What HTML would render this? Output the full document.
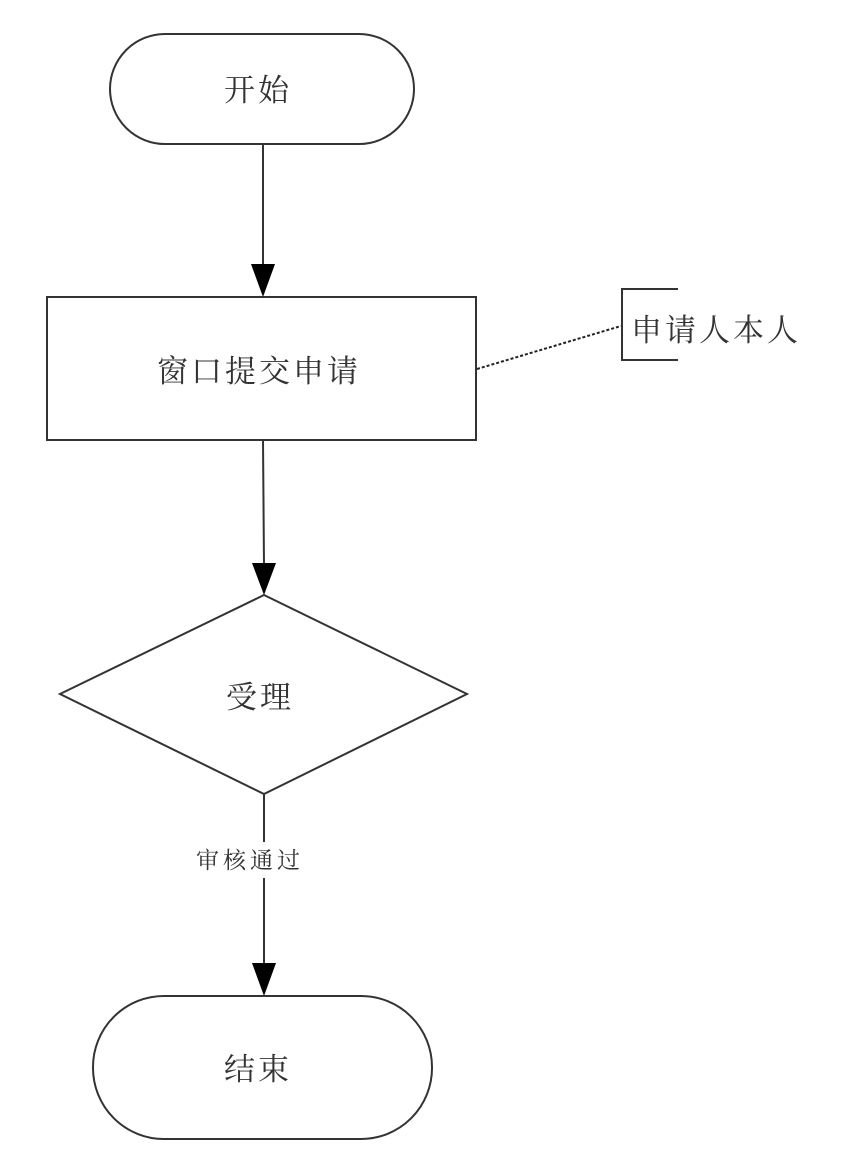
<!DOCTYPE html>
<html><head><meta charset="utf-8"><style>
html,body{margin:0;padding:0;background:#fff;}
svg{display:block;}
text{font-family:"Liberation Serif","Noto Serif CJK SC","Noto Sans CJK SC",serif;fill:#333;}
</style></head><body>
<svg width="848" height="1164" viewBox="0 0 848 1164" xmlns="http://www.w3.org/2000/svg">
<g fill="none" stroke="#333" stroke-width="2">
<rect x="110" y="34" width="304" height="110" rx="55" ry="55"/>
<rect x="47" y="297" width="429" height="143"/>
<polygon points="264,595 467,694 264,794 60,694"/>
<rect x="93" y="996" width="339" height="143" rx="71" ry="71"/>
<line x1="263" y1="144" x2="263" y2="268"/>
<line x1="263" y1="440" x2="264" y2="566"/>
<line x1="264" y1="794" x2="264" y2="842"/>
<line x1="264" y1="878" x2="264" y2="966"/>
<polyline points="678,289 622,289 622,360 678,360"/>
<line x1="477" y1="369" x2="621" y2="326" stroke-dasharray="3,2" stroke="#222"/>
</g>
<g fill="#000">
<polygon points="251,264 275,264 263,297"/>
<polygon points="252,563 276,563 264,595"/>
<polygon points="252,963 276,963 264,996"/>
</g>
<g font-size="31" letter-spacing="3">
<text x="224" y="101">开始</text>
<text x="157" y="382">窗口提交申请</text>
<text x="226" y="708">受理</text>
<text x="224" y="1080">结束</text>
<text x="631" y="341">申请人本人</text>
</g>
<text x="196" y="868" font-size="23" letter-spacing="4">审核通过</text>
</svg>
</body></html>
